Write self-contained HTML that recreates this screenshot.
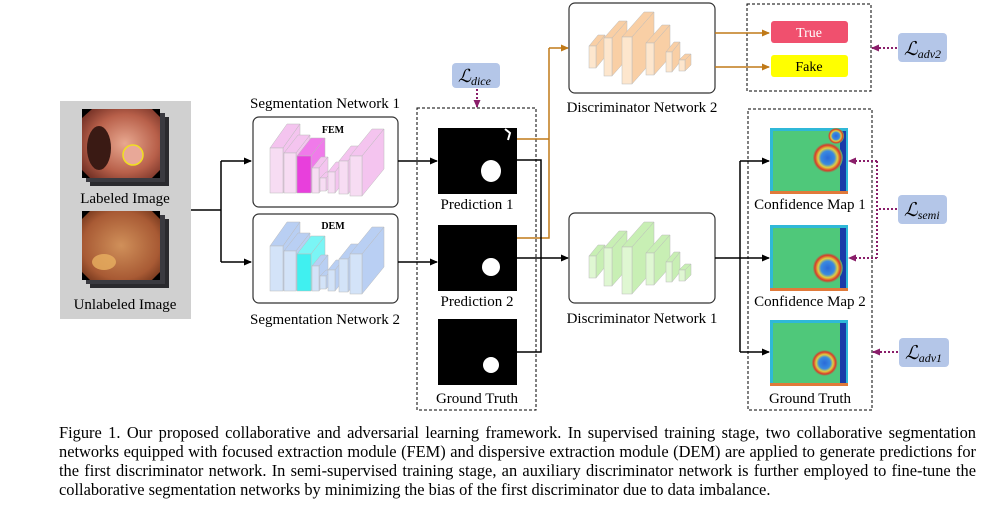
<!DOCTYPE html>
<html><head><meta charset="utf-8">
<style>
html,body{margin:0;padding:0;background:#fff;}
body{width:991px;height:506px;position:relative;overflow:hidden;font-family:"Liberation Serif",serif;}
svg{position:absolute;left:0;top:0;}
.cap{position:absolute;left:59px;width:917px;font-size:16.4px;line-height:19px;color:#000;white-space:nowrap;}
.j{text-align:justify;text-align-last:justify;}
.lab{font-family:"Liberation Serif",serif;font-size:15px;fill:#000;text-anchor:middle;}
.L{font-family:"Liberation Serif",serif;font-style:italic;fill:#000;}
</style></head><body>
<svg id="s" width="991" height="506" viewBox="0 0 991 506" xmlns="http://www.w3.org/2000/svg">
<defs>
<marker id="ab" markerWidth="8" markerHeight="8" refX="7" refY="4" orient="auto" markerUnits="userSpaceOnUse"><path d="M0,0.5 L8,4 L0,7.5z" fill="#000"/></marker>
<marker id="ao" markerWidth="8" markerHeight="8" refX="7" refY="4" orient="auto" markerUnits="userSpaceOnUse"><path d="M0,0.5 L8,4 L0,7.5z" fill="#c07a18"/></marker>
<marker id="ap" markerWidth="8" markerHeight="8" refX="7" refY="4" orient="auto" markerUnits="userSpaceOnUse"><path d="M0,0.5 L8,4 L0,7.5z" fill="#8a1e6a"/></marker>
<radialGradient id="g1" cx="0.55" cy="0.5" r="0.7"><stop offset="0" stop-color="#e8a890"/><stop offset="0.6" stop-color="#b8604a"/><stop offset="1" stop-color="#6a2a20"/></radialGradient>
<radialGradient id="g2" cx="0.5" cy="0.5" r="0.7"><stop offset="0" stop-color="#d0905a"/><stop offset="0.7" stop-color="#a85a34"/><stop offset="1" stop-color="#6a3018"/></radialGradient>
<radialGradient id="blob" cx="0.5" cy="0.5" r="0.5"><stop offset="0" stop-color="#2a6ad8"/><stop offset="0.45" stop-color="#3a8ae0"/><stop offset="0.65" stop-color="#e0d040"/><stop offset="0.85" stop-color="#d83a2a"/><stop offset="1" stop-color="#4fc87a"/></radialGradient>
</defs>

<rect x="60" y="101" width="131" height="218" fill="#d0d0d0"/>
<rect x="90" y="117" width="79" height="69" fill="#2a2a2e"/>
<rect x="86" y="113" width="79" height="69" fill="#3a3a40"/>
<rect x="82" y="109" width="78" height="69" fill="url(#g1)"/>
<polygon points="82,109 92,109 82,118" fill="#000"/><polygon points="160,109 152,109 160,117" fill="#000"/>
<polygon points="82,178 90,178 82,170" fill="#000"/><polygon points="160,178 152,178 160,170" fill="#000"/>
<ellipse cx="99" cy="148" rx="12" ry="22" fill="#3a1a14"/>
<ellipse cx="133" cy="155" rx="10" ry="10" fill="#e8a898" stroke="#f0e020" stroke-width="1.5"/>
<text class="lab" x="125" y="203" font-size="16">Labeled Image</text>

<rect x="90" y="219" width="79" height="69" fill="#2a2a2e"/>
<rect x="86" y="215" width="79" height="69" fill="#3a3a40"/>
<rect x="82" y="211" width="78" height="69" fill="url(#g2)"/>
<polygon points="82,211 90,211 82,219" fill="#000"/><polygon points="160,211 152,211 160,219" fill="#000"/>
<polygon points="82,280 90,280 82,272" fill="#000"/><polygon points="160,280 152,280 160,272" fill="#000"/>
<ellipse cx="104" cy="262" rx="12" ry="8" fill="#e8b060" opacity="0.8"/>
<text class="lab" x="125" y="309" font-size="16">Unlabeled Image</text>

<path d="M191,210 H221 M221,161 V262" stroke="#000" stroke-width="1.5" fill="none"/>
<path d="M221,161 H251" stroke="#000" stroke-width="1.5" marker-end="url(#ab)"/>
<path d="M221,262 H251" stroke="#000" stroke-width="1.5" marker-end="url(#ab)"/>

<text class="lab" x="325" y="108" font-size="16">Segmentation Network 1</text>
<rect x="253" y="117" width="145" height="90" rx="6" fill="#fff" stroke="#333" stroke-width="1.2"/>
<text x="333" y="133" font-family="Liberation Serif" font-weight="bold" font-size="10" text-anchor="middle">FEM</text>
<g id="seg1"></g>
<rect x="253" y="214" width="145" height="89" rx="6" fill="#fff" stroke="#333" stroke-width="1.2"/>
<text x="333" y="229" font-family="Liberation Serif" font-weight="bold" font-size="10" text-anchor="middle">DEM</text>
<g id="seg2"></g>
<text class="lab" x="325" y="324" font-size="16">Segmentation Network 2</text>

<rect x="417" y="108" width="119" height="302" fill="none" stroke="#000" stroke-width="1" stroke-dasharray="3,2"/>
<rect x="438" y="128" width="79" height="66" fill="#000"/>
<ellipse cx="491" cy="171" rx="10" ry="11" fill="#fff"/>
<path d="M505,129 L510,133 L508,140" stroke="#fff" stroke-width="2" fill="none"/>
<text class="lab" x="477" y="209">Prediction 1</text>
<rect x="438" y="225" width="79" height="66" fill="#000"/>
<ellipse cx="491" cy="267" rx="9" ry="9" fill="#fff"/>
<text class="lab" x="477" y="306">Prediction 2</text>
<rect x="438" y="319" width="79" height="66" fill="#000"/>
<ellipse cx="491" cy="365" rx="8" ry="8" fill="#fff"/>
<text class="lab" x="477" y="403">Ground Truth</text>

<path d="M398,161 H437" stroke="#000" stroke-width="1.5" marker-end="url(#ab)"/>
<path d="M398,262 H437" stroke="#000" stroke-width="1.5" marker-end="url(#ab)"/>

<rect x="452" y="63" width="48" height="25" rx="4" fill="#b4c6e8"/>
<text class="L" x="458" y="82" font-size="18">ℒ<tspan font-size="12" dy="3">dice</tspan></text>
<path d="M477,89 V107" stroke="#8a1e6a" stroke-width="2" stroke-dasharray="2,2" marker-end="url(#ap)"/>

<path d="M517,139 H549 M517,238 H549 V48" stroke="#c07a18" stroke-width="1.5" fill="none"/>
<path d="M549,48 H568" stroke="#c07a18" stroke-width="1.5" marker-end="url(#ao)"/>
<path d="M517,160 H541 V352 H517" stroke="#000" stroke-width="1.5" fill="none"/>
<path d="M517,258 H568" stroke="#000" stroke-width="1.5" marker-end="url(#ab)"/>

<rect x="569" y="3" width="146" height="90" rx="6" fill="#fff" stroke="#333" stroke-width="1.2"/>
<g id="d2"></g>
<text class="lab" x="642" y="112" font-size="16">Discriminator Network 2</text>
<rect x="569" y="213" width="146" height="90" rx="6" fill="#fff" stroke="#333" stroke-width="1.2"/>
<g id="d1"></g>
<text class="lab" x="642" y="323" font-size="16">Discriminator Network 1</text>

<rect x="747" y="4" width="124" height="87" fill="none" stroke="#000" stroke-width="1" stroke-dasharray="3,2"/>
<path d="M715,33 H769" stroke="#c07a18" stroke-width="1.5" marker-end="url(#ao)"/>
<path d="M715,67 H769" stroke="#c07a18" stroke-width="1.5" marker-end="url(#ao)"/>
<rect x="771" y="21" width="77" height="22" rx="3" fill="#f0506e"/>
<text x="809" y="37" font-family="Liberation Serif" font-size="14" fill="#fff" text-anchor="middle">True</text>
<rect x="771" y="55" width="77" height="22" rx="3" fill="#ffff00"/>
<text x="809" y="71" font-family="Liberation Serif" font-size="14" fill="#000" text-anchor="middle">Fake</text>
<rect x="898" y="33" width="49" height="29" rx="4" fill="#b4c6e8"/>
<text class="L" x="904" y="55" font-size="19">ℒ<tspan font-size="12" dy="3">adv2</tspan></text>
<path d="M897,48 H872" stroke="#8a1e6a" stroke-width="2" stroke-dasharray="2,2" marker-end="url(#ap)"/>

<rect x="748" y="109" width="124" height="301" fill="none" stroke="#000" stroke-width="1" stroke-dasharray="3,2"/>
<path d="M715,258 H740 M740,161 V352" stroke="#000" stroke-width="1.5" fill="none"/>
<path d="M740,161 H769" stroke="#000" stroke-width="1.5" marker-end="url(#ab)"/>
<path d="M740,258 H769" stroke="#000" stroke-width="1.5" marker-end="url(#ab)"/>
<path d="M740,352 H769" stroke="#000" stroke-width="1.5" marker-end="url(#ab)"/>
<g id="cm"></g>
<text class="lab" x="810" y="209">Confidence Map 1</text>
<text class="lab" x="810" y="306">Confidence Map 2</text>
<text class="lab" x="810" y="403">Ground Truth</text>

<rect x="898" y="195" width="49" height="29" rx="4" fill="#b4c6e8"/>
<text class="L" x="904" y="216" font-size="19">ℒ<tspan font-size="12" dy="3">semi</tspan></text>
<path d="M897,209 H877 M877,161 V258" stroke="#8a1e6a" stroke-width="2" stroke-dasharray="2,2" fill="none"/>
<path d="M877,161 H849" stroke="#8a1e6a" stroke-width="2" stroke-dasharray="2,2" marker-end="url(#ap)"/>
<path d="M877,258 H849" stroke="#8a1e6a" stroke-width="2" stroke-dasharray="2,2" marker-end="url(#ap)"/>
<rect x="899" y="338" width="50" height="29" rx="4" fill="#b4c6e8"/>
<text class="L" x="905" y="359" font-size="19">ℒ<tspan font-size="12" dy="3">adv1</tspan></text>
<path d="M898,352 H873" stroke="#8a1e6a" stroke-width="2" stroke-dasharray="2,2" marker-end="url(#ap)"/>
</svg>

<div class="cap j" style="top:423px">Figure 1. Our proposed collaborative and adversarial learning framework. In supervised training stage, two collaborative segmentation</div>
<div class="cap j" style="top:442px">networks equipped with focused extraction module (FEM) and dispersive extraction module (DEM) are applied to generate predictions for</div>
<div class="cap j" style="top:461px">the first discriminator network. In semi-supervised training stage, an auxiliary discriminator network is further employed to fine-tune the</div>
<div class="cap" style="top:480px">collaborative segmentation networks by minimizing the bias of the first discriminator due to data imbalance.</div>

<script>
function slab(g,x,y,w,h,dx,dy,front,side){
  var s=' stroke="#bbb" stroke-width="0.5"';
  g.insertAdjacentHTML('beforeend',
   '<polygon points="'+x+','+y+' '+(x+dx)+','+(y+dy)+' '+(x+w+dx)+','+(y+dy)+' '+(x+w)+','+y+'" fill="'+side+'"'+s+'/>'+
   '<polygon points="'+(x+w)+','+y+' '+(x+w+dx)+','+(y+dy)+' '+(x+w+dx)+','+(y+h+dy)+' '+(x+w)+','+(y+h)+'" fill="'+side+'"'+s+'/>'+
   '<rect x="'+x+'" y="'+y+'" width="'+w+'" height="'+h+'" fill="'+front+'"'+s+'/>');
}
function seg(id,oy,f,sd,hf,hs){
  var g=document.getElementById(id);
  var L=[[270,148,13,45,17,-24],[284,153,12,40,14,-18],[297,156,14,37,14,-18,1],[312,168,7,25,9,-11],[320,178,6,13,6,-6],[328,172,7,21,8,-10],[339,161,9,33,12,-15],[350,156,12,40,22,-27]];
  L.forEach(function(a){var hi=a[6];slab(g,a[0],a[1]+oy,a[2],a[3],a[4],a[5],hi?hf:f,hi?hs:sd);});
}
seg('seg1',0,'#f7dcf3','#f4c4ef','#e83fdc','#f07aea');
seg('seg2',98,'#d3e3f8','#b9cff3','#40f0f0','#7af5f5');
function disc(id,oy,f,sd){
  var g=document.getElementById(id);
  var L=[[589,46,7,22,9,-11],[604,38,8,38,15,-17],[622,37,10,47,22,-25],[646,43,8,32,16,-18],[666,52,6,20,8,-10],[679,60,6,11,6,-6]];
  L.forEach(function(a){slab(g,a[0],a[1]+oy,a[2],a[3],a[4],a[5],f,sd);});
}
disc('d2',0,'#fde6cd','#f9cfa5');
disc('d1',210,'#dff7d2','#c8efb4');
var cm=document.getElementById('cm');
[[128,0.74,0.3,15],[225,0.74,0.5,15],[320,0.7,0.5,13]].forEach(function(a,i){
  var y=a[0];
  cm.insertAdjacentHTML('beforeend',
   '<rect x="770" y="'+y+'" width="78" height="66" fill="#2fb8d8"/>'+
   '<rect x="773" y="'+(y+3)+'" width="67" height="61" fill="#4fc87a"/>'+
   '<rect x="840" y="'+(y+3)+'" width="6" height="63" fill="#1a3aa8"/>'+
   '<rect x="770" y="'+(y+63)+'" width="78" height="3" fill="#e07a3a"/>'+
   '<circle cx="'+(770+78*a[1])+'" cy="'+(y+66*a[2]+10)+'" r="'+a[3]+'" fill="url(#blob)"/>'+
   (i==0?'<circle cx="836" cy="'+(y+8)+'" r="8" fill="url(#blob)"/>':''));
});
</script>
</body></html>
